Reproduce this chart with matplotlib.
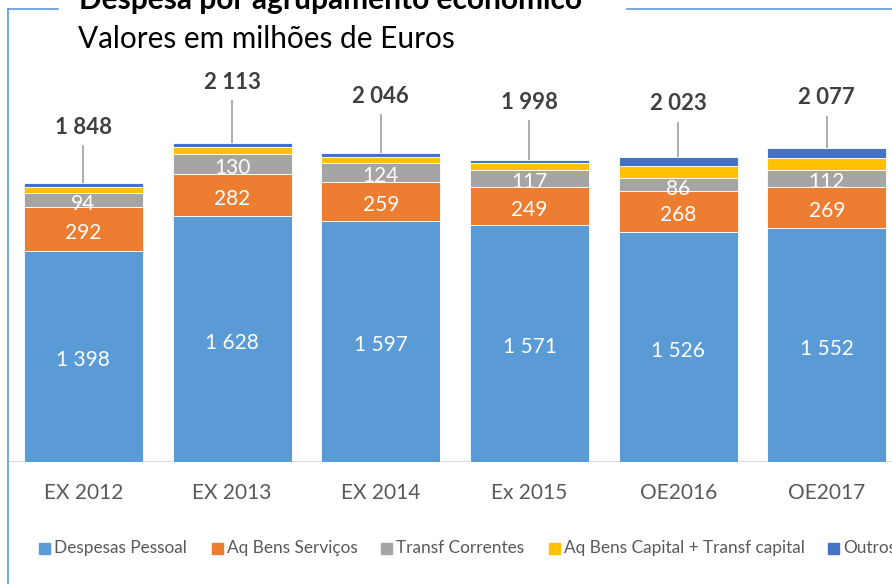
import matplotlib
matplotlib.use("Agg")
import matplotlib.pyplot as plt
from matplotlib.patches import Rectangle
from matplotlib.lines import Line2D
import numpy as np

plt.rcParams['font.family'] = ['Lato', 'DejaVu Sans']

categories = ["EX 2012", "EX 2013", "EX 2014", "Ex 2015", "OE2016", "OE2017"]
series_names = ["Despesas Pessoal", "Aq Bens Serviços", "Transf Correntes",
                "Aq Bens Capital + Transf capital", "Outros"]
despesas_pessoal = [1398, 1628, 1597, 1571, 1526, 1552]
aq_bens_servicos = [292, 282, 259, 249, 268, 269]
transf_correntes = [94, 130, 124, 117, 86, 112]
aq_bens_capital = [39, 46, 40, 46, 83, 82]
outros = [25, 27, 26, 15, 60, 62]
totals = [1848, 2113, 2046, 1998, 2023, 2077]
total_labels = ["1 848", "2 113", "2 046", "1 998", "2 023", "2 077"]

colors = ["#5B9BD5", "#ED7D31", "#A5A5A5", "#FFC000", "#4472C4"]
label_offsets = [300, 330, 305, 315, 280, 265]  # data units above bar top

W, H = 892, 584
fig = plt.figure(figsize=(W / 100, H / 100), dpi=100)

base_px = 462
scale = 0.151  # px per unit
left_px = 9
step_px = 148.7
ax = fig.add_axes([left_px / W, (H - base_px) / H, 6 * step_px / W, base_px / H])
ax.set_xlim(-0.5, 5.5)
ax.set_ylim(0, base_px / scale)
ax.set_axis_off()

x = np.arange(len(categories))
series = [despesas_pessoal, aq_bens_servicos, transf_correntes, aq_bens_capital, outros]
bottom = np.zeros(len(categories))
for i, (vals, c) in enumerate(zip(series, colors)):
    vals = np.array(vals, dtype=float)
    ax.bar(x, vals, 0.8, bottom=bottom, color=c, edgecolor="white", linewidth=0.6, zorder=2)
    if i < 3:
        for xi, b, v in zip(x, bottom, vals):
            ax.annotate(f"{int(v):,}".replace(",", " "), (xi, b + v / 2),
                        xytext=(0, -2.8), textcoords="offset points",
                        ha="center", va="center", color="white", fontsize=15, zorder=3)
    bottom += vals

# baseline
ax.axhline(0, color="#D9D9D9", linewidth=1.5, zorder=1)

# totals with leader lines
for xi, top, lab, off in zip(x, bottom, total_labels, label_offsets):
    ly = top + off
    ax.plot([xi, xi], [top, ly - 55], color="#A6A6A6", linewidth=1.3, zorder=1)
    ax.text(xi, ly, lab, ha="center", va="bottom", fontsize=16, fontweight="bold",
            color="#404040", zorder=3)

# category labels
for xi, cat in zip(x, categories):
    ax.text(xi, -(493 - base_px) / scale, cat, ha="center", va="center",
            fontsize=15, color="#595959", clip_on=False)

# frame lines
fig.add_artist(Line2D([8 / W, 8 / W], [1 - 9 / H, 0], color="#5B9BD5", linewidth=1.2))
fig.add_artist(Line2D([8 / W, 58 / W], [1 - 9 / H, 1 - 9 / H], color="#5B9BD5", linewidth=1.2))
fig.add_artist(Line2D([627 / W, 1], [1 - 9 / H, 1 - 9 / H], color="#5B9BD5", linewidth=1.2))

# titles
fig.text(79 / W, 1 - 9 / H, "Despesa por agrupamento económico", fontsize=21.5,
         fontweight="bold", color="black", ha="left", va="baseline")
fig.text(78 / W, 1 - 48 / H, "Valores em milhões de Euros", fontsize=21.4,
         color="black", ha="left", va="baseline")

# legend
leg_x = [39, 212, 381, 549, 828]
leg_y = 548
sq = 11
for lx, name, c in zip(leg_x, series_names, colors):
    fig.add_artist(Rectangle((lx / W, (H - leg_y - sq / 2) / H), sq / W, sq / H,
                             transform=fig.transFigure, color=c))
    fig.text((lx + sq + 4) / W, (H - leg_y) / H, name, fontsize=12.4, color="#595959",
             ha="left", va="center")

fig.savefig("out.png", dpi=100)
